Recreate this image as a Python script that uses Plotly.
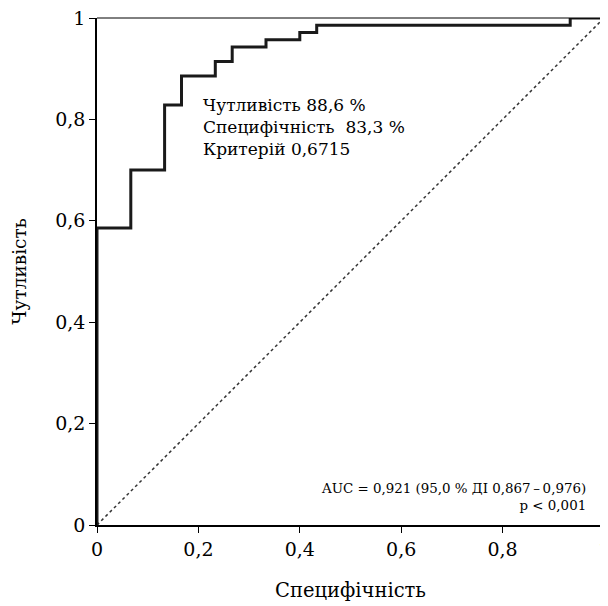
import plotly.graph_objects as go

# ROC step points (false positives out of 30 negatives, true positives out of 70 positives)
n_neg = 30
n_pos = 70
fp_counts = [0, 2, 4, 5, 7, 8, 10, 12, 13, 28, 30]
tp_counts = [0, 41, 49, 58, 62, 64, 66, 67, 68, 69, 70]

tick_vals = [0, 0.2, 0.4, 0.6, 0.8, 1]
tick_text = ["0", "0,2", "0,4", "0,6", "0,8", "1"]

x_title = "Специфічність"
y_title = "Чутливість"
info_lines = ["Чутливість 88,6 %", "Специфічність  83,3 %", "Критерій 0,6715"]
auc_lines = ["AUC = 0,921 (95,0 % ДІ 0,867\u2009\u2013\u20090,976)", "p < 0,001"]

fpr = [c / n_neg for c in fp_counts]
tpr = [c / n_pos for c in tp_counts]

FONT = "DejaVu Serif"

fig = go.Figure()
fig.add_trace(go.Scatter(x=[0, 1], y=[0, 1], mode="lines",
                         line=dict(color="#333333", width=1.5, dash="dot"),
                         hoverinfo="skip", showlegend=False))
fig.add_trace(go.Scatter(x=fpr, y=tpr, mode="lines", line_shape="vh",
                         line=dict(color="#1a1a1a", width=3),
                         showlegend=False))

axis_common = dict(range=[0, 1], showgrid=False, zeroline=False, automargin=False,
                   showline=True, linecolor="black", linewidth=1.5,
                   ticks="outside", ticklen=6, tickwidth=1.2, tickcolor="black",
                   tickvals=tick_vals, ticktext=tick_text, ticklabeloverflow="allow",
                   tickfont=dict(family=FONT, size=19, color="black"))

# page body has an 8px default margin, so the figure is shrunk by 8px to fit the window
fig.update_layout(
    width=600, height=598,
    margin=dict(l=89, r=4, t=10, b=81),
    paper_bgcolor="white", plot_bgcolor="white",
    font=dict(family=FONT, color="black"),
    xaxis=dict(**axis_common,
               title=dict(text=x_title, font=dict(family=FONT, size=19.5), standoff=25)),
    yaxis=dict(**axis_common,
               title=dict(text=y_title, font=dict(family=FONT, size=18.5), standoff=24)),
    shapes=[dict(type="line", xref="paper", yref="paper", x0=0, x1=1, y0=1, y1=1,
                 line=dict(color="black", width=1)),
            dict(type="line", xref="paper", yref="paper", x0=1, x1=1, y0=0, y1=1,
                 line=dict(color="black", width=1))],
    annotations=[
        dict(x=0.205, y=0.786, xref="x", yref="y", xanchor="left", yanchor="middle",
             text="<br>".join(info_lines), align="left", showarrow=False,
             font=dict(family=FONT, size=17, color="black")),
        dict(x=0.968, y=0.056, xref="x", yref="y", xanchor="right", yanchor="middle",
             text="<br>".join(auc_lines), align="right", showarrow=False,
             font=dict(family=FONT, size=13.4, color="black")),
    ],
)

fig.write_html("out.html")
